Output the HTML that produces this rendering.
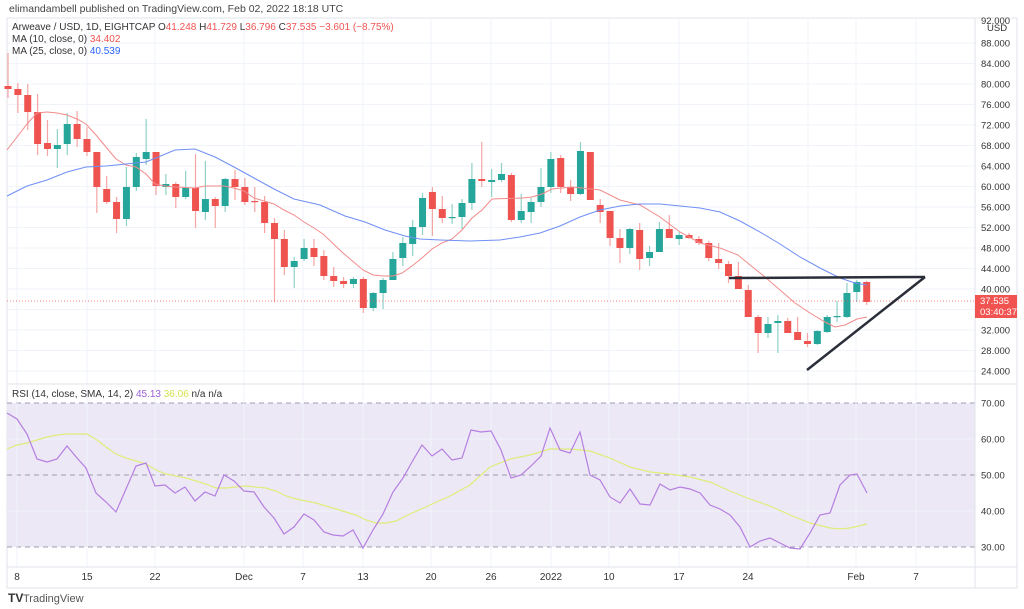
<!DOCTYPE html>
<html><head><meta charset="utf-8"><style>
body{margin:0;background:#fff;width:1024px;height:609px;overflow:hidden;font-family:"Liberation Sans",sans-serif}
svg{position:absolute;left:0;top:0}
</style></head><body>
<svg id="s" width="1024" height="609" xmlns="http://www.w3.org/2000/svg" font-family="Liberation Sans, sans-serif"></svg>
<script>
const s=document.getElementById('s');let h='';
const G='#f0f3fa';
// frame
h+=`<rect x="7" y="18" width="1010" height="570" fill="#fff" stroke="#e0e3eb"/>`;
// RSI fill
h+=`<rect x="7" y="403" width="968" height="144" fill="#ede8f6"/>`;
// grid horizontal main
for(let p=24;p<=88;p+=4){let y=289-(p-40)*5.125;h+=`<line x1="7" x2="975" y1="${y}" y2="${y}" stroke="${G}"/>`;h+=`<text x="981" y="${y+3.5}" font-size="9.5" fill="#333">${p.toFixed(3)}</text>`;}
h+=`<text x="981" y="24" font-size="9.5" fill="#333">92.000</text><text x="987" y="31" font-size="9.5" fill="#333">USD</text>`;
// RSI grid
[[70,403],[60,439],[50,475],[40,511],[30,547]].forEach(([v,y])=>{h+=`<line x1="7" x2="975" y1="${y}" y2="${y}" stroke="${v%20==10?'#a09cb0':G}" ${v%20==10?'stroke-dasharray="5,4"':''}/>`;h+=`<text x="981" y="${y+3.5}" font-size="9.5" fill="#333">${v.toFixed(2)}</text>`;});
// vertical grid + dates
[[17,'8'],[87,'15'],[155,'22'],[244,'Dec'],[303,'7'],[363,'13'],[431,'20'],[491,'26'],[551,'2022'],[609,'10'],[679,'17'],[748,'24'],[808,'31'],[856,'Feb'],[916,'7']].forEach(([x,t])=>{h+=`<line x1="${x}" x2="${x}" y1="18" y2="567" stroke="${G}"/>`;if(t!='31')h+=`<text x="${x}" y="580" font-size="10" fill="#333" text-anchor="middle">${t}</text>`;});
h+=`<line x1="7" x2="1017" y1="384" y2="384" stroke="#e0e3eb"/><line x1="7" x2="1017" y1="567" y2="567" stroke="#e0e3eb"/><line x1="975" x2="975" y1="18" y2="588" stroke="#e0e3eb"/>`;
// candles: open y, close y, high y, low y
const C=[[86,89,53,98],[89,95,83,113],[95,112,84,130],[112,144,94,155],[143,149,120,156],[149,145,129,168],[144,124,113,155],[124,139,111,147],[139,152,127,156],[152,187,152,213],[189,202,176,204],[202,219,197,233],[219,187,167,226],[187,157,153,191],[159,152,119,165],[152,186,152,195],[187,184,174,195],[184,197,182,208],[197,188,171,199],[188,211,154,228],[212,199,161,220],[199,206,197,228],[206,179,178,212],[179,187,170,200],[187,202,178,205],[201,202,187,212],[202,223,196,233],[223,239,218,302],[239,267,230,275],[267,261,257,288],[259,248,239,261],[248,257,239,266],[256,276,250,280],[276,281,267,287],[281,284,277,288],[284,279,277,288],[279,308,277,313],[308,293,292,311],[293,280,278,309],[280,259,252,280],[258,243,237,266],[244,227,220,256],[227,198,193,235],[192,209,187,236],[209,218,196,223],[218,217,204,224],[217,203,199,229],[203,179,163,210],[179,181,142,187],[182,180,169,197],[180,174,163,182],[175,220,173,222],[220,211,194,223],[212,202,198,223],[202,187,168,207],[187,159,152,193],[158,187,155,193],[187,194,180,201],[194,151,142,195],[152,200,152,200],[205,212,199,223],[211,238,211,246],[238,248,229,263],[248,229,228,254],[230,259,223,270],[258,252,246,266],[252,229,222,252],[229,238,215,238],[239,235,232,245],[235,238,233,239],[239,243,236,245],[243,258,241,261],[259,263,243,269],[264,276,261,283],[276,289,262,289],[290,317,285,317],[317,333,315,353],[333,324,317,338],[323,321,315,353],[321,333,318,333],[332,340,317,340],[341,344,333,347],[344,331,330,345],[332,317,315,333],[317,316,301,322],[317,293,283,318],[292,282,280,302],[282,302,281,305]];
C.forEach((c,i)=>{const x=8+i*9.87;const up=c[1]<c[0];const col=up?'#26a69a':'#ef5350';const wc=up?'#8fd0c7':'#f5a5a3';
h+=`<line x1="${x}" x2="${x}" y1="${c[2]}" y2="${c[3]}" stroke="${wc}" stroke-width="1.2"/>`;
const t=Math.min(c[0],c[1]),b=Math.max(c[0],c[1]);h+=`<rect x="${x-3.5}" y="${t}" width="7" height="${Math.max(b-t,1.2)}" fill="${col}"/>`;});
const pl=(pts,col,w)=>`<polyline fill="none" stroke="${col}" stroke-width="${w||1}" points="${pts.map(p=>p.join(',')).join(' ')}"/>`;
h+=pl([[7,150],[27,124],[37,113],[47,112],[57,113],[67,115],[77,119],[86,124],[96,135],[106,147],[116,159],[126,165],[136,167],[146,174],[155,184],[165,186],[175,187],[195,188],[205,186],[224,186],[234,188],[244,191],[254,198],[264,201],[274,204],[284,210],[294,215],[304,222],[314,228],[323,234],[343,253],[363,270],[373,275],[383,276],[393,276],[402,273],[412,266],[422,258],[432,249],[442,243],[452,239],[462,230],[472,218],[482,210],[492,199],[522,198],[532,197],[542,194],[552,189],[572,187],[582,188],[600,190],[620,200],[640,205],[660,217],[680,232],[700,243],[720,248],[738,255],[750,265],[765,277],[780,290],[795,303],[810,313],[825,322],[835,327],[845,325],[857,319],[867,317]],'#f28b8b');
h+=pl([[7,196],[27,186],[47,180],[67,172],[86,167],[106,166],[126,164],[146,162],[175,150],[195,149],[215,157],[234,167],[254,178],[274,189],[294,199],[320,205],[345,216],[365,222],[385,230],[405,236],[420,239],[440,240],[470,241],[500,240],[520,237],[540,233],[560,226],[580,217],[600,210],[620,206],[640,204],[660,204],[680,206],[700,208],[720,212],[740,221],[760,232],[780,244],[800,257],[820,268],[840,278],[855,283],[867,285]],'#6f8ff5');
// price line
h+=`<line x1="7" x2="975" y1="301" y2="301" stroke="#ef5350" stroke-dasharray="1,2" opacity="0.7"/>`;
h+=`<rect x="975" y="295" width="42" height="23" fill="#f05350"/><text x="980" y="304" font-size="9.5" fill="#fff">37.535</text><text x="980" y="315" font-size="9.5" fill="#fff">03:40:37</text>`;
// black lines
h+=`<line x1="729" y1="278" x2="925" y2="277" stroke="#2a2e39" stroke-width="2.5"/><line x1="807" y1="370" x2="925" y2="277" stroke="#2a2e39" stroke-width="2.5"/>`;
// RSI
h+=pl([[7,449],[17,445],[27,443],[37,440],[47,437],[57,435],[67,434],[87,434],[97,440],[106,447],[116,454],[126,458],[136,461],[146,464],[156,470],[166,474],[176,476],[186,478],[196,481],[206,484],[216,488],[226,488],[246,486],[266,488],[276,491],[286,496],[296,499],[306,501],[316,503],[326,506],[336,509],[346,512],[356,515],[366,520],[376,523],[386,523],[396,521],[410,514],[430,505],[450,496],[470,485],[490,467],[510,459],[530,455],[550,449],[570,449],[590,451],[610,458],[630,467],[650,472],[670,474],[690,477],[710,482],[730,491],[750,499],[770,506],[790,515],[810,523],[830,528],[840,529],[850,528],[867,524]],'#e0ec7a',1.2);
h+=pl([[7,413],[17,419],[27,434],[37,459],[47,462],[57,459],[67,446],[77,458],[86,468],[96,493],[106,502],[116,512],[126,489],[136,466],[146,463],[155,486],[165,485],[175,493],[185,487],[195,501],[205,492],[215,496],[224,475],[234,481],[244,491],[254,492],[264,507],[274,518],[284,534],[294,527],[304,514],[314,520],[324,532],[333,535],[343,536],[353,530],[363,548],[373,530],[383,514],[393,492],[403,478],[412,462],[422,445],[432,456],[442,449],[452,460],[462,458],[471,430],[481,432],[491,431],[501,450],[511,478],[521,475],[531,466],[541,456],[550,428],[560,450],[570,453],[580,432],[590,475],[600,480],[610,497],[620,503],[630,489],[640,504],[650,505],[660,484],[670,490],[680,487],[690,489],[700,493],[710,505],[720,509],[730,515],[740,527],[750,547],[760,541],[770,538],[780,543],[790,548],[800,549],[810,533],[820,515],[830,513],[840,485],[850,475],[857,474],[867,493]],'#b57fe0',1.2);
// texts
h+=`<text x="9" y="12" font-size="10.5" fill="#444">elimandambell published on TradingView.com, Feb 02, 2022 18:18 UTC</text>`;
h+=`<text x="12" y="30" font-size="10" fill="#333">Arweave / USD, 1D, EIGHTCAP <tspan>O</tspan><tspan fill="#ef5350">41.248</tspan> H<tspan fill="#ef5350">41.729</tspan> L<tspan fill="#ef5350">36.796</tspan> C<tspan fill="#ef5350">37.535  −3.601 (−8.75%)</tspan></text>`;
h+=`<text x="12" y="42" font-size="10" fill="#333">MA (10, close, 0) <tspan fill="#ef5350">34.402</tspan></text>`;
h+=`<text x="12" y="54" font-size="10" fill="#333">MA (25, close, 0) <tspan fill="#2962ff">40.539</tspan></text>`;
h+=`<text x="12" y="397" font-size="10" fill="#333">RSI (14, close, SMA, 14, 2) <tspan fill="#9c5ed6">45.13</tspan> <tspan fill="#d4e04a">36.06</tspan>  n/a  n/a</text>`;
h+=`<text x="8" y="602" font-size="12" font-weight="bold" fill="#333">TV</text><text x="23" y="602" font-size="11" fill="#555">TradingView</text>`;
s.innerHTML=h;
</script>
</body></html>
